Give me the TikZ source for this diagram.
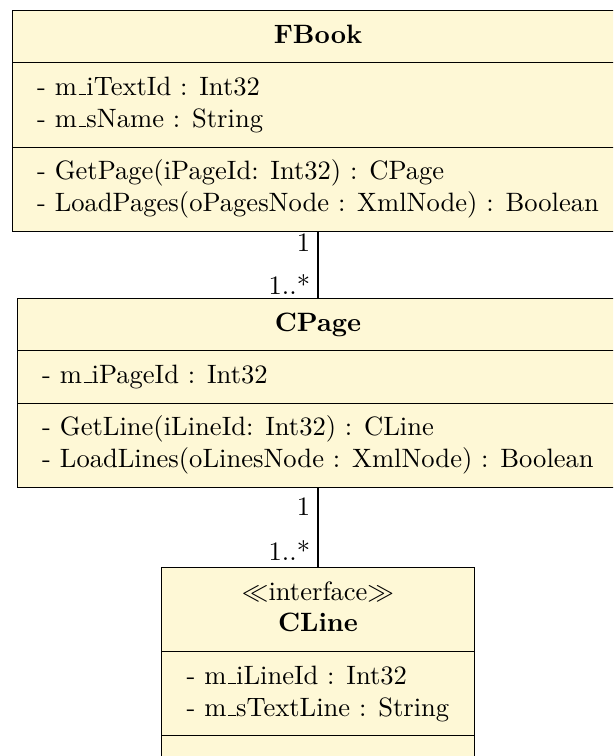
\documentclass[tikz,border=0pt]{standalone}
\usetikzlibrary{shapes.multipart}
\definecolor{classfill}{RGB}{254,248,214}
\newcommand\usc{\leavevmode\kern.06em\vbox{\hrule width.3em}}
\begin{document}
\begin{tikzpicture}[
  umlclass/.style={rectangle split, rectangle split parts=3, draw=black, fill=classfill,
    inner xsep=3.333pt, inner ysep=3.65pt, rectangle split part align={center,left,left}, anchor=north, line width=0.4pt},
  mult/.style={inner sep=0pt, anchor=base east, xshift=-2.8pt},
  assoc/.style={draw=black, line width=0.4pt}
]
\useasboundingbox (-119.7pt,3.76pt) rectangle (111.04pt,-280.8pt);
\clip (-119.7pt,3.76pt) rectangle (111.04pt,-280.8pt);

\node[umlclass] (FBook) at (0pt,0pt) {%
  \begin{tabular}{c}\textbf{FBook}\end{tabular}
  \nodepart{second}\begin{tabular}{l}- m\usc iTextId : Int32\\- m\usc sName : String\end{tabular}
  \nodepart{third}\begin{tabular}{l}- GetPage(iPageId: Int32) : CPage\\- LoadPages(oPagesNode : XmlNode) : Boolean\end{tabular}};

\node[umlclass] (CPage) at (0pt,-108.4pt) {%
  \begin{tabular}{c}\textbf{CPage}\end{tabular}
  \nodepart{second}\begin{tabular}{l}- m\usc iPageId : Int32\end{tabular}
  \nodepart{third}\begin{tabular}{l}- GetLine(iLineId: Int32) : CLine\\- LoadLines(oLinesNode : XmlNode) : Boolean\end{tabular}};

\node[umlclass] (CLine) at (0pt,-209.65pt) {%
  \begin{tabular}{c}$\ll$interface$\gg$\\\textbf{CLine}\end{tabular}
  \nodepart{second}\begin{tabular}{l}- m\usc iLineId : Int32\\- m\usc sTextLine : String\end{tabular}
  \nodepart{third}\begin{tabular}{l}\strut\end{tabular}};

\draw[assoc] (FBook.south) -- node[mult, pos=0.3] (m1) {1} node[mult, pos=0.95] (m2) {1..*} (CPage.north);
\draw[assoc] (CPage.south) -- node[mult, pos=0.35] (m3) {1} node[mult, pos=0.92] (m4) {1..*} (CLine.north);
\end{tikzpicture}
\end{document}
